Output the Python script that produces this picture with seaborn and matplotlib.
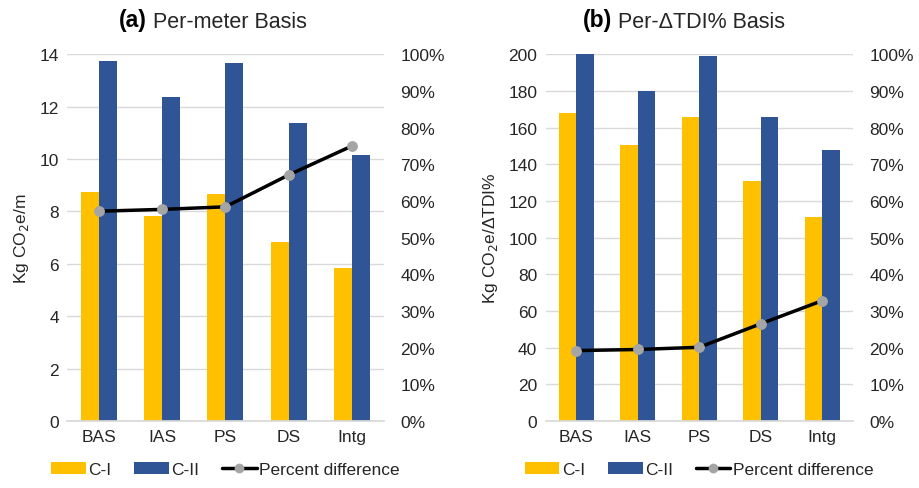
import matplotlib.pyplot as plt
import matplotlib.ticker as mtick
from matplotlib.patches import Patch
from matplotlib.lines import Line2D
import pandas as pd
import seaborn as sns
import numpy as np

categories = ["BAS", "IAS", "PS", "DS", "Intg"]

# (a) per-meter basis, kg CO2e/m
meter_c1 = [8.75, 7.84, 8.65, 6.83, 5.83]
meter_c2 = [13.75, 12.36, 13.66, 11.37, 10.16]
meter_pct = [57.2, 57.7, 58.4, 67.1, 75.0]

# (b) per-dTDI% basis, kg CO2e/dTDI%
tdi_c1 = [167.8, 150.4, 165.6, 130.7, 111.2]
tdi_c2 = [200.0, 179.8, 198.8, 165.6, 147.7]
tdi_pct = [19.2, 19.5, 20.1, 26.5, 32.8]

series_names = ["C-I", "C-II"]
colors = ["#FFC000", "#2F5597"]
grid_col = "#D9D9D9"
txt_col = "#262626"

sns.set_theme(style="white")
plt.rcParams['font.family'] = ['Liberation Sans', 'DejaVu Sans']

fig = plt.figure(figsize=(9.2, 4.89), dpi=100)

panels = [
    ("(a)", " Per-meter Basis", meter_c1, meter_c2, meter_pct, 14, 2,
     "Kg CO$_2$e/m", [0.073, 0.137, 0.344, 0.750], 0.160),
    ("(b)", " Per-\u0394TDI% Basis", tdi_c1, tdi_c2, tdi_pct, 200, 20,
     "Kg CO$_2$e/\u0394TDI%", [0.593, 0.137, 0.334, 0.750], 0.665),
]

for tag, title, c1, c2, pct, ymax, ystep, ylabel, rect, tx in panels:
    ax = fig.add_axes(rect)
    df = pd.DataFrame({
        "Category": categories * 2,
        "Series": [series_names[0]] * 5 + [series_names[1]] * 5,
        "Value": c1 + c2,
    })
    sns.barplot(data=df, x="Category", y="Value", hue="Series",
                palette=colors, width=0.57, ax=ax, legend=False,
                saturation=1, edgecolor="none")
    ax.set_ylim(0, ymax)
    ax.set_xlim(-0.5, 4.5)
    ax.set_yticks(np.arange(0, ymax + ystep / 2, ystep))
    ax.yaxis.grid(True, color=grid_col, linewidth=1)
    ax.set_axisbelow(True)
    for s in ["top", "right", "left"]:
        ax.spines[s].set_visible(False)
    ax.spines["bottom"].set_color(grid_col)
    ax.tick_params(axis="both", length=0, labelsize=12.5, colors=txt_col, pad=6)
    ax.set_xlabel("")
    ax.set_ylabel(ylabel, fontsize=12.5, color=txt_col, labelpad=6)

    ax2 = ax.twinx()
    sns.lineplot(x=np.arange(len(categories)), y=pct, ax=ax2, color="black",
                 linewidth=2.5, marker="o", markersize=7,
                 markerfacecolor="#A5A5A5", markeredgecolor="#A5A5A5")
    ax2.set_ylim(0, 100)
    ax2.set_yticks(np.arange(0, 101, 10))
    ax2.yaxis.set_major_formatter(mtick.PercentFormatter(decimals=0))
    for s in ["top", "right", "left", "bottom"]:
        ax2.spines[s].set_visible(False)
    ax2.tick_params(axis="y", length=0, labelsize=12.5, colors=txt_col, pad=12)
    ax2.set_xlim(-0.5, 4.5)

    fig.text(tx, 0.958, tag, fontsize=16.5, fontweight="bold", color="black",
             ha="right", va="center")
    fig.text(tx, 0.955, title, fontsize=15.5, color=txt_col, ha="left", va="center")

    handles = [
        Patch(facecolor=colors[0], edgecolor="none"),
        Patch(facecolor=colors[1], edgecolor="none"),
        Line2D([0], [0], color="black", linewidth=2.5, marker="o",
               markersize=6, markerfacecolor="#A5A5A5",
               markeredgecolor="#A5A5A5"),
    ]
    ax.legend(handles, series_names + ["Percent difference"],
              loc="center", bbox_to_anchor=(0.5, -0.132), ncol=3,
              frameon=False, fontsize=12.5, handlelength=2.0, handleheight=0.7,
              handletextpad=0.15, columnspacing=1.3, labelcolor=txt_col)

fig.savefig("out.png", dpi=100)
